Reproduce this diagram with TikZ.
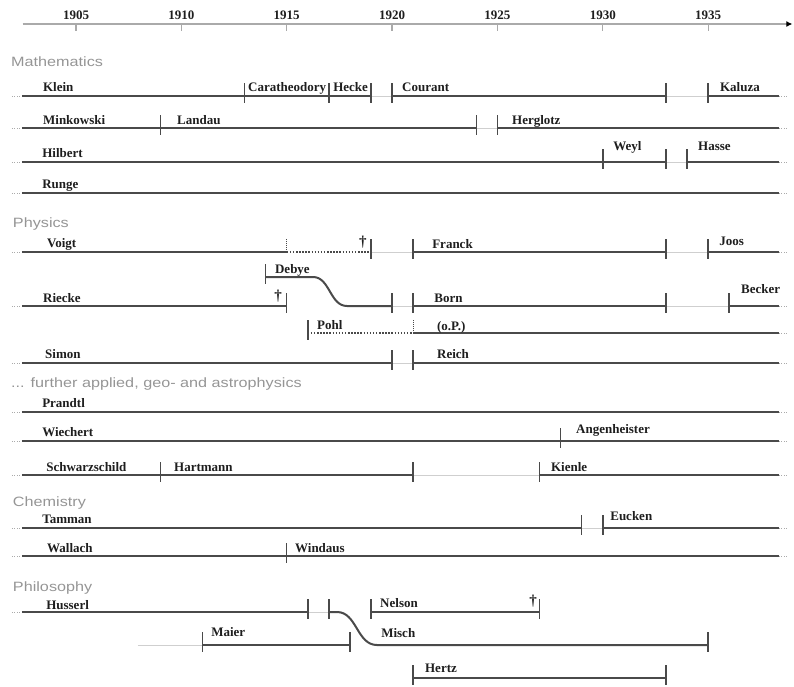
\documentclass[tikz,border=0pt]{standalone}
\usepackage{fontspec}
\setmainfont{Liberation Serif}
\newfontfamily\headfont[FakeStretch=1.2]{Liberation Sans}
\usetikzlibrary{arrows.meta}
\definecolor{lifecol}{HTML}{4A4A4A}
\definecolor{gapcol}{HTML}{CFCFCF}
\definecolor{headcol}{HTML}{959595}
\definecolor{axiscol}{HTML}{AAAAAA}
\definecolor{txtcol}{HTML}{1E1E1E}
\tikzset{
  life/.style={draw=lifecol, line width=2pt},
  gapline/.style={draw=gapcol, line width=0.8pt},
  dotline/.style={draw=lifecol, line width=1.6pt, dash pattern=on 1.5pt off 1.6pt},
  enddots/.style={draw=axiscol, line width=1pt, dash pattern=on 1pt off 1.5pt},
  tickmark/.style={draw=lifecol, line width=1.5pt},
  dtick/.style={draw=lifecol, line width=1pt, dash pattern=on 1pt off 1pt},
  lbl/.style={anchor=base west, inner sep=0pt, text=txtcol, font=\fontsize{13}{13}\selectfont\bfseries},
  dag/.style={anchor=center, inner sep=0pt, text=txtcol, font=\fontsize{15}{15}\selectfont\bfseries},
  head/.style={anchor=base west, inner sep=0pt, text=headcol, font=\headfont\fontsize{13.5}{13.5}\selectfont},
  yearlbl/.style={anchor=base, inner sep=0pt, text=txtcol, font=\fontsize{13}{13}\selectfont\bfseries},
  axisline/.style={draw=axiscol, line width=1.2pt},
}
\newcommand\rowpts[3]{\foreach \yr in {#3} {\coordinate (#1-\yr) at (\yr,#2);}}
\newcommand\rowends[2]{%
  \coordinate (#1-LD) at (1.96,#2);\coordinate (#1-L) at (2.437,#2);%
  \coordinate (#1-R) at (38.36,#2);\coordinate (#1-RD) at (38.8,#2);}
\newcommand\tickat[1]{\draw[tickmark] ([yshift=13pt]#1) -- ([yshift=-7pt]#1);}
\newcommand\dtickat[1]{\draw[dtick] (#1) -- ([yshift=13pt]#1);}
\begin{document}
\begin{tikzpicture}[x=21.07pt, y=-1pt]
\path[use as bounding box] (0pt,0pt) rectangle (794pt,-686pt);
\begin{scope}[xshift=-29.35pt]
% ---------- axis ----------
\coordinate (axL) at (2.47,24);
\coordinate (axR) at (39.0,24);
\draw[axisline, -{Latex[length=6pt,width=6pt,color=black,fill=black]}] (axL) -- (axR);
\foreach \yr in {5,10,...,35} {
  \coordinate (ax-\yr) at (\yr,24);
  \draw[axisline] (ax-\yr) -- ([yshift=-7pt]ax-\yr);
  \pgfmathtruncatemacro\yy{1900+\yr}
  \node[yearlbl] (yl-\yr) at (\yr,19) {\yy};
}
% ---------- headings ----------
\node[head] (hMath) at (1.915,66) {Mathematics};
\node[head] (hPhys) at (2.0,227) {Physics};
\node[head] (hGeo) at (1.915,387) {... further applied, geo- and astrophysics};
\node[head] (hChem) at (2.0,506) {Chemistry};
\node[head] (hPhil) at (2.0,591) {Philosophy};
% ---------- coordinates ----------
\rowends{kl}{96}\rowpts{kl}{96}{13,17,19,20,33,35}
\rowends{mi}{128}\rowpts{mi}{128}{9,24,25}
\rowends{hi}{162}\rowpts{hi}{162}{30,33,34}
\rowends{ru}{193}
\rowends{vo}{252}\rowpts{vo}{252}{15,19,21,33,35}
\rowpts{de}{277}{14}
\rowends{ri}{306}\rowpts{ri}{306}{15,20,21,33,36}
\rowends{po}{333}\rowpts{po}{333}{16,21}
\rowends{si}{363}\rowpts{si}{363}{20,21}
\rowends{pr}{412}
\rowends{wi}{441}\rowpts{wi}{441}{28}
\rowends{sc}{475}\rowpts{sc}{475}{9,21,27}
\rowends{ta}{528}\rowpts{ta}{528}{29,30}
\rowends{wa}{556}\rowpts{wa}{556}{15}
\rowends{hu}{612}\rowpts{hu}{612}{16,17,19,27}
\rowpts{ma}{645}{11,18,35}
\rowpts{he}{678}{21,33}
% ---------- Mathematics ----------
\draw[enddots] (kl-LD) -- (kl-L); \draw[enddots] (kl-R) -- (kl-RD);
\draw[life] (kl-L) -- (kl-13);
\draw[life] (kl-13) -- (kl-17);
\draw[life] (kl-17) -- (kl-19);
\draw[gapline] (kl-19) -- (kl-20);
\draw[life] (kl-20) -- (kl-33);
\draw[gapline] (kl-33) -- (kl-35);
\draw[life] (kl-35) -- (kl-R);
\foreach \yr in {13,17,19,20,33,35} {\tickat{kl-\yr}}
\node[lbl] (nKlein) at (3.43,91) {Klein};
\node[lbl] (nCara) at (13.16,91) {Caratheodory};
\node[lbl] (nHecke) at (17.2,91) {Hecke};
\node[lbl] (nCourant) at (20.47,91) {Courant};
\node[lbl] (nKaluza) at (35.56,91) {Kaluza};

\draw[enddots] (mi-LD) -- (mi-L); \draw[enddots] (mi-R) -- (mi-RD);
\draw[life] (mi-L) -- (mi-9);
\draw[life] (mi-9) -- (mi-24);
\draw[gapline] (mi-24) -- (mi-25);
\draw[life] (mi-25) -- (mi-R);
\foreach \yr in {9,24,25} {\tickat{mi-\yr}}
\node[lbl] (nMink) at (3.43,124) {Minkowski};
\node[lbl] (nLandau) at (9.79,124) {Landau};
\node[lbl] (nHerg) at (25.69,124) {Herglotz};

\draw[enddots] (hi-LD) -- (hi-L); \draw[enddots] (hi-R) -- (hi-RD);
\draw[life] (hi-L) -- (hi-30);
\draw[life] (hi-30) -- (hi-33);
\draw[gapline] (hi-33) -- (hi-34);
\draw[life] (hi-34) -- (hi-R);
\foreach \yr in {30,33,34} {\tickat{hi-\yr}}
\node[lbl] (nHilbert) at (3.39,157) {Hilbert};
\node[lbl] (nWeyl) at (30.49,150) {Weyl};
\node[lbl] (nHasse) at (34.52,150) {Hasse};

\draw[enddots] (ru-LD) -- (ru-L); \draw[enddots] (ru-R) -- (ru-RD);
\draw[life] (ru-L) -- (ru-R);
\node[lbl] (nRunge) at (3.39,188) {Runge};
% ---------- Physics ----------
\draw[enddots] (vo-LD) -- (vo-L); \draw[enddots] (vo-R) -- (vo-RD);
\draw[life] (vo-L) -- (vo-15);
\dtickat{vo-15}
\draw[dotline] (vo-15) -- (vo-19);
\draw[gapline] (vo-19) -- (vo-21);
\draw[life] (vo-21) -- (vo-33);
\draw[gapline] (vo-33) -- (vo-35);
\draw[life] (vo-35) -- (vo-R);
\foreach \yr in {19,21,33,35} {\tickat{vo-\yr}}
\node[dag] (dVoigt) at (18.62,242) {†};
\node[lbl] (nVoigt) at (3.62,247) {Voigt};
\node[lbl] (nFranck) at (21.9,248) {Franck};
\node[lbl] (nJoos) at (35.52,245) {Joos};

\coordinate (de-a) at (16.25,277);
\coordinate (ri-b) at (17.86,306);
\draw[life] (de-14) -- (de-a) .. controls (17.05,277) and (17.05,306) .. (ri-b) -- (ri-20);
\tickat{de-14}
\node[lbl] (nDebye) at (14.44,273) {Debye};

\draw[enddots] (ri-LD) -- (ri-L); \draw[enddots] (ri-R) -- (ri-RD);
\draw[life] (ri-L) -- (ri-15);
\draw[gapline] (ri-20) -- (ri-21);
\draw[life] (ri-21) -- (ri-33);
\draw[gapline] (ri-33) -- (ri-36);
\draw[life] (ri-36) -- (ri-R);
\foreach \yr in {15,20,21,33,36} {\tickat{ri-\yr}}
\node[dag] (dRiecke) at (14.59,296) {†};
\node[lbl] (nRiecke) at (3.43,302) {Riecke};
\node[lbl] (nBorn) at (22.0,302) {Born};
\node[lbl] (nBecker) at (36.56,293) {Becker};

\draw[enddots] (po-R) -- (po-RD);
\tickat{po-16}
\draw[dotline] (po-16) -- (po-21);
\dtickat{po-21}
\draw[life] (po-21) -- (po-R);
\node[lbl] (nPohl) at (16.44,329) {Pohl};
\node[lbl] (nOP) at (22.13,330) {(o.P.)};

\draw[enddots] (si-LD) -- (si-L); \draw[enddots] (si-R) -- (si-RD);
\draw[life] (si-L) -- (si-20);
\draw[gapline] (si-20) -- (si-21);
\draw[life] (si-21) -- (si-R);
\foreach \yr in {20,21} {\tickat{si-\yr}}
\node[lbl] (nSimon) at (3.53,358) {Simon};
\node[lbl] (nReich) at (22.13,358) {Reich};
% ---------- applied / geo / astro ----------
\draw[enddots] (pr-LD) -- (pr-L); \draw[enddots] (pr-R) -- (pr-RD);
\draw[life] (pr-L) -- (pr-R);
\node[lbl] (nPrandtl) at (3.39,407) {Prandtl};

\draw[enddots] (wi-LD) -- (wi-L); \draw[enddots] (wi-R) -- (wi-RD);
\draw[life] (wi-L) -- (wi-28);
\draw[life] (wi-28) -- (wi-R);
\tickat{wi-28}
\node[lbl] (nWiechert) at (3.39,436) {Wiechert};
\node[lbl] (nAngen) at (28.73,433) {Angenheister};

\draw[enddots] (sc-LD) -- (sc-L); \draw[enddots] (sc-R) -- (sc-RD);
\draw[life] (sc-L) -- (sc-9);
\draw[life] (sc-9) -- (sc-21);
\draw[gapline] (sc-21) -- (sc-27);
\draw[life] (sc-27) -- (sc-R);
\foreach \yr in {9,21,27} {\tickat{sc-\yr}}
\node[lbl] (nSchwarz) at (3.58,471) {Schwarzschild};
\node[lbl] (nHartmann) at (9.65,471) {Hartmann};
\node[lbl] (nKienle) at (27.54,471) {Kienle};
% ---------- Chemistry ----------
\draw[enddots] (ta-LD) -- (ta-L); \draw[enddots] (ta-R) -- (ta-RD);
\draw[life] (ta-L) -- (ta-29);
\draw[gapline] (ta-29) -- (ta-30);
\draw[life] (ta-30) -- (ta-R);
\foreach \yr in {29,30} {\tickat{ta-\yr}}
\node[lbl] (nTamman) at (3.39,523) {Tamman};
\node[lbl] (nEucken) at (30.35,520) {Eucken};

\draw[enddots] (wa-LD) -- (wa-L); \draw[enddots] (wa-R) -- (wa-RD);
\draw[life] (wa-L) -- (wa-15);
\draw[life] (wa-15) -- (wa-R);
\tickat{wa-15}
\node[lbl] (nWallach) at (3.62,552) {Wallach};
\node[lbl] (nWindaus) at (15.39,552) {Windaus};
% ---------- Philosophy ----------
\draw[enddots] (hu-LD) -- (hu-L);
\draw[life] (hu-L) -- (hu-16);
\draw[gapline] (hu-16) -- (hu-17);
\coordinate (hu-a) at (17.39,612);
\coordinate (ma-b) at (19.28,645);
\draw[life] (hu-17) -- (hu-a) .. controls (18.33,612) and (18.33,645) .. (ma-b) -- (ma-35);
\draw[life] (hu-19) -- (hu-27);
\foreach \yr in {16,17,19,27} {\tickat{hu-\yr}}
\node[dag] (dNelson) at (26.69,601) {†};
\node[lbl] (nHusserl) at (3.58,609) {Husserl};
\node[lbl] (nNelson) at (19.43,607) {Nelson};

\coordinate (ma-s) at (7.94,645);
\draw[gapline] (ma-s) -- (ma-11);
\draw[life] (ma-11) -- (ma-18);
\foreach \yr in {11,18,35} {\tickat{ma-\yr}}
\node[lbl] (nMaier) at (11.41,636) {Maier};
\node[lbl] (nMisch) at (19.48,637) {Misch};

\draw[life] (he-21) -- (he-33);
\foreach \yr in {21,33} {\tickat{he-\yr}}
\node[lbl] (nHertz) at (21.56,672) {Hertz};
\end{scope}
\end{tikzpicture}
\end{document}
